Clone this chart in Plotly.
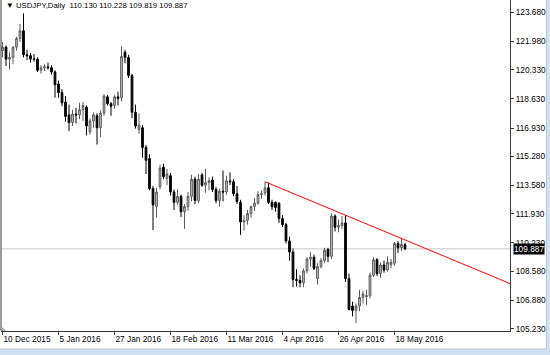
import plotly.graph_objects as go

symbol = "USDJPY"
timeframe = "Daily"

# Daily OHLC, 10 Dec 2015 .. 23 May 2016 (one entry per trading bar)
opens = [121.45, 121.65, 120.95, 121.05, 121.65, 122.15, 122.60, 121.20, 121.15, 120.95,
         120.95, 120.30, 120.45, 120.50, 120.45, 120.20, 119.50, 119.00, 118.45, 117.70,
         117.25, 117.75, 117.70, 118.00, 118.15, 116.70, 117.35, 117.65, 116.95, 117.80,
         118.75, 118.35, 118.25, 118.75, 118.70, 121.35, 121.05, 120.00, 117.85, 116.85,
         116.95, 115.80, 115.15, 113.40, 112.35, 113.50, 114.65, 114.00, 114.15, 113.20,
         112.60, 112.95, 112.05, 112.35, 112.95, 113.95, 112.70, 114.20, 113.60, 113.75,
         113.90, 113.35, 112.70, 113.25, 113.20, 113.85, 113.80, 113.10, 112.60, 111.45,
         111.55, 111.95, 112.35, 112.55, 113.05, 113.15, 113.45, 112.60, 112.60, 112.55,
         111.65, 111.30, 110.35, 109.70, 108.10, 108.05, 107.90, 108.60, 109.30, 109.40,
         108.15, 108.85, 109.20, 109.85, 109.45, 111.80, 111.15, 111.25, 111.40, 108.15,
         106.55, 106.30, 106.55, 107.05, 107.10, 107.15, 108.35, 109.25, 108.45, 108.95,
         108.65, 108.95, 109.05, 110.20, 109.95, 110.130]
highs = [121.95, 121.75, 121.35, 121.70, 122.25, 123.00, 123.62, 121.50, 121.30, 121.25,
         121.05, 120.60, 120.65, 120.75, 120.60, 120.30, 119.70, 119.20, 118.80, 118.30,
         118.00, 118.10, 118.40, 118.45, 118.25, 117.50, 117.85, 117.80, 117.95, 118.90,
         118.85, 118.45, 118.85, 119.05, 121.70, 121.50, 121.20, 120.10, 118.30, 117.80,
         117.10, 115.95, 115.40, 113.55, 113.45, 114.80, 114.85, 114.55, 114.30, 113.35,
         113.35, 113.05, 112.50, 113.20, 114.20, 114.10, 114.25, 114.30, 114.55, 114.05,
         114.10, 113.50, 113.40, 114.45, 114.15, 114.35, 113.95, 113.55, 112.75, 111.85,
         112.15, 112.40, 112.85, 113.25, 113.30, 113.80, 113.75, 112.75, 112.65, 112.60,
         111.85, 111.40, 110.60, 109.90, 108.70, 108.35, 108.75, 109.40, 109.70, 109.55,
         109.05, 109.35, 109.95, 109.95, 111.95, 111.90, 111.60, 111.80, 111.85, 108.45,
         106.80, 106.70, 107.50, 107.45, 107.50, 108.50, 109.40, 109.35, 109.10, 109.20,
         109.45, 109.30, 110.30, 110.35, 110.50, 110.228]
lows = [121.05, 120.55, 120.35, 120.65, 121.45, 121.95, 121.05, 120.90, 120.75, 120.80,
        120.20, 120.10, 120.25, 120.35, 120.05, 118.70, 118.70, 118.20, 117.30, 116.75,
        117.05, 117.20, 117.45, 117.35, 116.50, 116.55, 116.95, 115.97, 116.40, 117.65,
        118.25, 117.65, 118.05, 118.25, 118.50, 120.70, 119.85, 117.50, 116.90, 116.60,
        115.20, 114.25, 113.30, 110.98, 111.70, 113.35, 113.95, 113.60, 113.00, 112.15,
        112.45, 111.75, 111.05, 112.10, 112.65, 112.50, 112.55, 113.50, 113.15, 113.30,
        113.20, 112.55, 112.35, 112.65, 113.05, 113.60, 112.95, 112.50, 110.70, 110.95,
        111.30, 111.70, 112.10, 112.45, 112.80, 113.00, 112.50, 112.15, 112.05, 111.40,
        111.15, 110.20, 109.20, 107.65, 107.70, 107.65, 107.65, 108.45, 108.85, 108.65,
        107.80, 108.75, 109.05, 109.10, 109.30, 110.90, 110.85, 111.05, 107.95, 106.30,
        105.95, 105.55, 106.25, 106.70, 106.60, 107.00, 108.25, 108.30, 108.20, 108.50,
        108.55, 108.75, 108.90, 109.65, 109.75, 109.819]
closes = [121.65, 120.95, 121.05, 121.65, 122.15, 122.60, 121.20, 121.15, 120.95, 120.95,
          120.30, 120.45, 120.50, 120.45, 120.20, 119.45, 119.00, 118.40, 117.60, 117.25,
          117.75, 117.70, 118.00, 118.25, 117.05, 117.35, 117.70, 116.95, 117.80, 118.80,
          118.35, 118.20, 118.75, 118.65, 121.10, 121.05, 120.00, 117.85, 117.05, 117.10,
          115.80, 115.05, 113.40, 112.45, 113.20, 114.60, 114.10, 114.25, 113.20, 112.60,
          112.95, 112.05, 112.35, 112.95, 113.95, 112.70, 113.95, 113.60, 113.75, 113.85,
          113.35, 112.70, 113.25, 113.20, 113.85, 113.80, 113.10, 112.65, 111.45, 111.55,
          111.95, 112.35, 112.55, 113.05, 113.10, 113.45, 112.60, 112.35, 112.30, 111.65,
          111.30, 110.35, 109.70, 108.10, 108.05, 107.90, 108.60, 109.30, 109.40, 108.75,
          108.85, 109.20, 109.80, 109.45, 111.80, 111.15, 111.25, 111.40, 108.15, 106.35,
          106.30, 106.55, 107.05, 107.25, 107.15, 108.35, 109.25, 108.45, 108.95, 108.65,
          109.10, 109.10, 110.20, 109.95, 110.15, 109.887]

# x-axis labels: every 16th bar
date_tick_bars = [0, 16, 32, 48, 64, 80, 96, 112]
date_tick_labels = ["10 Dec 2015", "5 Jan 2016", "27 Jan 2016", "18 Feb 2016",
                    "11 Mar 2016", "4 Apr 2016", "26 Apr 2016", "18 May 2016"]
# price scale labels
price_ticks = [105.23, 106.88, 108.58, 110.23, 111.93, 113.58,
               115.28, 116.93, 118.63, 120.33, 121.98, 123.68]

# red trend line anchors (bar index, price)
trend_bars = [75, 146]
trend_prices = [113.80, 107.78]

bars = list(range(len(closes)))

FONT = "Liberation Sans, Arial, sans-serif"
AXIS = "#3a3a3a"

fig = go.Figure()
fig.add_trace(go.Candlestick(
    x=bars, open=opens, high=highs, low=lows, close=closes,
    increasing=dict(fillcolor="#c8c8c8", line=dict(color="#5a5a5a", width=1)),
    decreasing=dict(fillcolor="black", line=dict(color="black", width=1)),
    whiskerwidth=0, hoverinfo="skip", showlegend=False,
))
fig.add_trace(go.Scatter(
    x=trend_bars, y=trend_prices, mode="lines",
    line=dict(color="#ff0000", width=1), hoverinfo="skip", showlegend=False,
))

last_close = closes[-1]
fig.add_shape(type="line", xref="paper", x0=0, x1=1, yref="y", y0=last_close, y1=last_close,
              line=dict(color="#c6c6c6", width=1), layer="below")
# left frame line
fig.add_shape(type="line", xref="paper", x0=0, x1=0, yref="paper", y0=0, y1=1,
              line=dict(color=AXIS, width=1))
# chart shift marker (small grey triangle, bottom-left)
fig.add_shape(type="path", xref="paper", yref="paper",
              path="M 0.002 0.0 L 0.010 0.0 L 0.002 0.012 Z",
              fillcolor="#a8a8a8", line=dict(width=0))
# window frame (bottom and right strips)
fig.add_shape(type="rect", xref="paper", yref="paper", x0=-0.01, x1=1.09,
              y0=-0.08, y1=-0.0545, fillcolor="#d3e2f3", line=dict(width=0), layer="above")
fig.add_shape(type="rect", xref="paper", yref="paper", x0=1.0715, x1=1.09,
              y0=-0.08, y1=1.01, fillcolor="#d3e2f3", line=dict(width=0), layer="above")
fig.add_shape(type="line", xref="paper", yref="paper", x0=-0.01, x1=1.0715,
              y0=-0.0545, y1=-0.0545, line=dict(color="#b8c4d0", width=1))
fig.add_shape(type="line", xref="paper", yref="paper", x0=1.0715, x1=1.0715,
              y0=-0.0545, y1=1.01, line=dict(color="#b8c4d0", width=1))

header = "▼ {},{}  {:.3f} {:.3f} {:.3f} {:.3f}".format(
    symbol, timeframe, opens[-1], highs[-1], lows[-1], closes[-1])
fig.add_annotation(xref="paper", yref="paper", x=0, y=1, xanchor="left", yanchor="top",
                   xshift=3, yshift=1, text=header, showarrow=False,
                   font=dict(family=FONT, size=7.8, color="#000000"))
fig.add_annotation(xref="paper", yref="y", x=1, y=last_close, xanchor="left", yanchor="middle",
                   xshift=3, text="{:.3f}".format(last_close), showarrow=False,
                   bgcolor="#000000", borderpad=0,
                   font=dict(family=FONT, size=8.3, color="#ffffff"))

fig.update_layout(
    width=550, height=355,
    margin=dict(l=1, r=40, t=0, b=24),
    paper_bgcolor="white", plot_bgcolor="white",
    showlegend=False,
    xaxis=dict(
        range=[-0.43, 145.0], rangeslider=dict(visible=False),
        tickmode="array", tickvals=date_tick_bars, ticktext=date_tick_labels,
        ticks="outside", ticklen=3, tickcolor=AXIS, ticklabelposition="outside right",
        showline=True, linecolor=AXIS, linewidth=1, mirror=False,
        showgrid=False, zeroline=False, fixedrange=True,
        tickfont=dict(family=FONT, size=8.3, color="#000000"),
    ),
    yaxis=dict(
        range=[105.097, 124.397], side="right",
        tickmode="array", tickvals=price_ticks,
        ticktext=["{:.3f}".format(v) for v in price_ticks],
        ticks="outside", ticklen=3, tickcolor=AXIS,
        showline=True, linecolor=AXIS, linewidth=1,
        showgrid=False, zeroline=False, fixedrange=True,
        tickfont=dict(family=FONT, size=8.3, color="#000000"),
    ),
)

fig.write_html("out.html")
